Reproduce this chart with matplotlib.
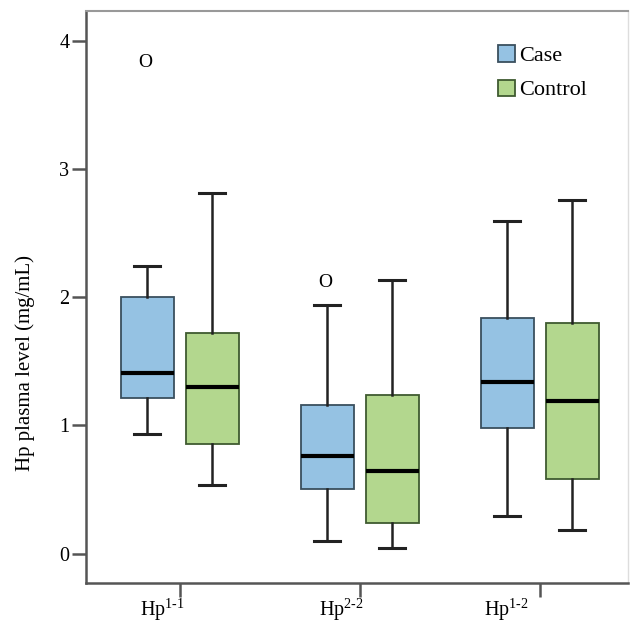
import matplotlib
matplotlib.use("Agg")
import matplotlib.pyplot as plt
import matplotlib.transforms as mtransforms
from matplotlib.patches import Patch

plt.rcParams['font.family'] = ['Liberation Serif', 'DejaVu Serif']
plt.rcParams['mathtext.fontset'] = 'custom'
plt.rcParams['mathtext.rm'] = 'Liberation Serif'
plt.rcParams['mathtext.it'] = 'Liberation Serif:italic'

groups = ['Hp$^{\\mathrm{1\u20101}}$', 'Hp$^{\\mathrm{2\u20102}}$', 'Hp$^{\\mathrm{1\u20102}}$']
series = ['Case', 'Control']
# per group: [whislo, q1, med, q3, whishi]
case_stats = [[0.93, 1.21, 1.41, 2.00, 2.24],
              [0.10, 0.50, 0.76, 1.16, 1.94],
              [0.29, 0.975, 1.34, 1.84, 2.59]]
control_stats = [[0.535, 0.85, 1.30, 1.72, 2.81],
                 [0.04, 0.24, 0.645, 1.235, 2.13],
                 [0.185, 0.58, 1.19, 1.795, 2.755]]
case_outliers = [[3.83], [2.11], []]
control_outliers = [[], [], []]

colors = ['#95c2e3', '#b3d78e']
edges = ['#3a4f5e', '#3f5a30']

fig = plt.figure(figsize=(6.3, 6.22), dpi=100)
ax = fig.add_axes([0.1365, 0.0627, 0.8605, 0.9196])

offset = 0.18
width = 0.295
for si, (stats, outs) in enumerate([(case_stats, case_outliers), (control_stats, control_outliers)]):
    sign = -1 if si == 0 else 1
    bxs = []
    for s in stats:
        bxs.append(dict(whislo=s[0], q1=s[1], med=s[2], q3=s[3], whishi=s[4], fliers=[]))
    pos = [i + sign * offset for i in range(len(groups))]
    ax.bxp(bxs, positions=pos, widths=width, patch_artist=True, showfliers=False,
           boxprops=dict(facecolor=colors[si], edgecolor=edges[si], linewidth=1.3),
           medianprops=dict(color='black', linewidth=3),
           whiskerprops=dict(color='#222222', linewidth=1.8),
           capprops=dict(color='#222222', linewidth=2.2),
           capwidths=0.145)
    for i, o in enumerate(outs):
        for v in o:
            ax.text(pos[i] - 0.012, v, 'O', ha='center', va='center', fontsize=14, color='black')

ax.set_xlim(-0.52, 2.49)
ax.set_ylim(-0.23, 4.23)
ax.set_xticks(range(len(groups)))
ax.set_xticklabels(groups, fontsize=14.5)
ax.set_yticks([0, 1, 2, 3, 4])
ax.set_yticklabels(['0', '1', '2', '3', '4'], fontsize=14.5)
ax.set_ylabel('Hp plasma level (mg/mL)', fontsize=15)
ax.yaxis.set_label_coords(-0.094, 0.385)
ax.tick_params(axis='both', length=10, width=1.8, color='#555555')
ax.tick_params(axis='y', pad=2)
ax.tick_params(axis='x', pad=0)

label_shift_px = [-17, -18, -33]
for lab, dx in zip(ax.get_xticklabels(), label_shift_px):
    lab.set_transform(lab.get_transform() + mtransforms.ScaledTranslation(dx / 100, 0, fig.dpi_scale_trans))

for side in ['left', 'bottom']:
    ax.spines[side].set_color('#555555')
    ax.spines[side].set_linewidth(1.8)
ax.spines['top'].set_color('#999999')
ax.spines['top'].set_linewidth(1.5)
ax.spines['right'].set_color('#dddddd')
ax.spines['right'].set_linewidth(1.0)

handles = [Patch(facecolor=colors[i], edgecolor=edges[i], linewidth=1.3, label=series[i]) for i in range(2)]
leg = ax.legend(handles=handles, loc='upper left', bbox_to_anchor=(0.760, 0.940), frameon=False,
                fontsize=16, handlelength=0.75, handleheight=0.75, handletextpad=0.22,
                labelspacing=0.6, borderpad=0, borderaxespad=0)

fig.savefig('out.png', dpi=100)
